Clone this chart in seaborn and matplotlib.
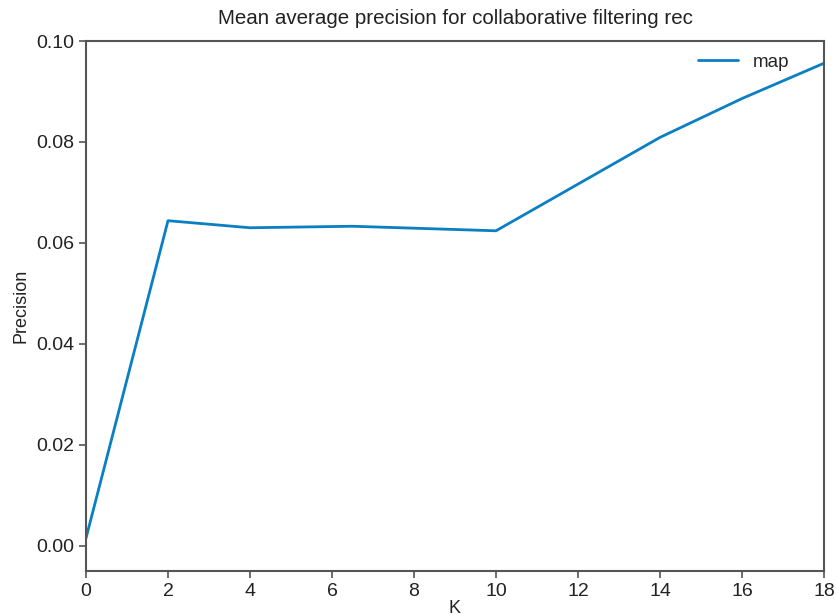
import matplotlib
matplotlib.use("Agg")
import matplotlib.pyplot as plt
import seaborn as sns
import pandas as pd

k_values = [0, 2, 4, 6.5, 10, 14, 16, 18]
map_values = [0.0015, 0.0644, 0.0630, 0.0633, 0.0624, 0.0809, 0.0886, 0.0956]
x_ticks = [0, 2, 4, 6, 8, 10, 12, 14, 16, 18]
y_ticks = [0.00, 0.02, 0.04, 0.06, 0.08, 0.10]

sns.set_theme(style="ticks")
plt.rcParams['font.family'] = ['Liberation Sans', 'DejaVu Sans']

df = pd.DataFrame({"K": k_values, "Precision": map_values, "series": "map"})

fig = plt.figure(figsize=(8.37, 6.16), dpi=100)
ax = fig.add_axes([86/837, 1 - 571/616, (824 - 86)/837, (571 - 41)/616])
sns.lineplot(data=df, x="K", y="Precision", hue="series", palette=["#0a7fc2"],
             linewidth=2, ax=ax)
ax.set_xlim(0, 18)
ax.set_ylim(-0.005, 0.10)
ax.set_xticks(x_ticks)
ax.set_yticks(y_ticks)
ax.set_yticklabels([f"{v:.2f}" for v in y_ticks])
ax.tick_params(direction="out", length=5, width=1.2, colors="#555555",
               labelcolor="#222222", labelsize=14)
for s in ax.spines.values():
    s.set_color("#555555")
    s.set_linewidth(1.5)
ax.set_xlabel("K", fontsize=13, color="#222222", labelpad=0)
ax.set_ylabel("Precision", fontsize=13, color="#222222", labelpad=5)
ax.set_title("Mean average precision for collaborative filtering rec", fontsize=14.8,
             color="#222222", pad=12)
leg = ax.legend(loc="upper right", frameon=False, fontsize=13.5, handlelength=2.1,
                bbox_to_anchor=(1 - 18/738, 1 + 4/530))
fig.savefig("out.png", dpi=100)
